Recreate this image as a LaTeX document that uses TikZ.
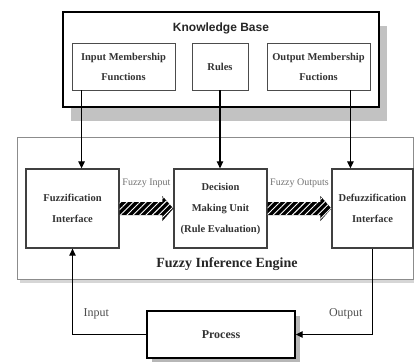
\documentclass[tikz,border=0pt]{standalone}
\usepackage{fontspec}
\setmainfont{Liberation Serif}
\newfontfamily\kbfont{Liberation Sans}
\usetikzlibrary{arrows.meta, calc, patterns.meta, shadows}

\begin{document}
\begin{tikzpicture}[
    x=1pt, y=1pt,
    >={Triangle[length=7pt,width=6.5pt]},
    kbbox/.style={draw=black, line width=2.4pt, fill=white,
        minimum width=316pt, minimum height=95pt,
        drop shadow={shadow xshift=8pt, shadow yshift=-14pt, fill=black!40, opacity=0.6}},
    subbox/.style={draw=black!70, line width=0.9pt, fill=white, inner sep=0pt,
        minimum height=47pt, align=center, text=black!80,
        font=\fontsize{10.5}{20}\selectfont\bfseries},
    enginebox/.style={draw=black!45, line width=0.8pt, fill=white,
        minimum width=396pt, minimum height=142pt,
        drop shadow={shadow xshift=3pt, shadow yshift=-4pt, fill=black!20, opacity=0.8}},
    unitbox/.style={draw=black!75, line width=1.3pt, fill=white, inner sep=0pt,
        minimum height=79pt, align=center, text=black!80,
        font=\fontsize{10.5}{21}\selectfont\bfseries},
    procbox/.style={draw=black, line width=1.4pt, fill=white,
        minimum width=148pt, minimum height=47pt, text=black!80,
        font=\fontsize{12}{14}\selectfont\bfseries,
        drop shadow={shadow xshift=5pt, shadow yshift=-5pt, fill=black!40, opacity=0.7}},
    flowarr/.style={->, line width=1.2pt, draw=black},
    hatchfill/.style={fill=black,
        postaction={pattern={Lines[angle=45,distance=4.5pt,line width=0.9pt]}, pattern color=white}},
    siglabel/.style={font=\fontsize{10}{12}\selectfont, text=black!55},
    looplabel/.style={font=\fontsize{12}{14}\selectfont, text=black!70}
]
\useasboundingbox (0,0) rectangle (414,-361);

%% Knowledge base
\node[kbbox] (kb) at (221,-59.5) {};
\node[font=\kbfont\fontsize{12}{14}\selectfont\bfseries, text=black!85]
    (kbtitle) at ($(kb.north)+(0,-18)$) {Knowledge Base};
\node[subbox, minimum width=103pt] (imf) at (123.5,-66.5) {Input Membership\\Functions};
\node[subbox, minimum width=56pt]  (rules) at (220,-66.5) {Rules};
\node[subbox, minimum width=103pt] (omf) at (318.5,-66.5) {Output Membership\\Fuctions};

%% Fuzzy inference engine
\node[enginebox] (fie) at (215,-208) {};
\node[font=\fontsize{14}{16}\selectfont\bfseries, text=black!85]
    (fietitle) at ($(fie.south)+(12,15)$) {Fuzzy Inference Engine};
\node[unitbox, minimum width=93pt] (fuzz)   at (72.5,-208.5)  {Fuzzification\\Interface};
\node[unitbox, minimum width=93pt] (dmu)    at (220.5,-208.5) {Decision\\Making Unit\\(Rule Evaluation)};
\node[unitbox, minimum width=81pt] (defuzz) at (372.5,-208.5) {Defuzzification\\Interface};

%% Process
\node[procbox] (process) at (221,-334.5) {Process};

%% Knowledge base to engine
\coordinate (imfout) at ($(imf.south west)+(10,0)$);
\coordinate (omfout) at ($(omf.south east)+(-20,0)$);
\draw[flowarr] (imfout) -- (imfout |- fuzz.north);
\draw[flowarr] (rules.south) -- (rules.south |- dmu.north);
\draw[flowarr] (omfout) -- (omfout |- defuzz.north);

%% Hatched arrows between the units
\newcommand\hatcharrow[2]{%
  \path[hatchfill] ($(#1.east)+(0,6.5)$) -- ($(#2.west)+(-11,6.5)$)
     -- ($(#2.west)+(-11,12.5)$) -- (#2.west) -- ($(#2.west)+(-11,-12.5)$)
     -- ($(#2.west)+(-11,-6.5)$) -- ($(#1.east)+(0,-6.5)$) -- cycle;}
\hatcharrow{fuzz}{dmu}
\hatcharrow{dmu}{defuzz}
\node[siglabel] (fin)  at ($(fuzz.east)!0.5!(dmu.west)+(0,25.5)$)   {Fuzzy Input};
\node[siglabel] (fout) at ($(dmu.east)!0.5!(defuzz.west)+(0,25.5)$) {Fuzzy Outputs};

%% Process loop
\draw[flowarr] (process.west) -| (fuzz.south);
\draw[flowarr] (defuzz.south) |- (process.east);
\node[looplabel] (inlbl)  at ($(process.west)+(-50,21)$) {Input};
\node[looplabel] (outlbl) at ($(process.east)+(50,21)$)  {Output};

\end{tikzpicture}
\end{document}
